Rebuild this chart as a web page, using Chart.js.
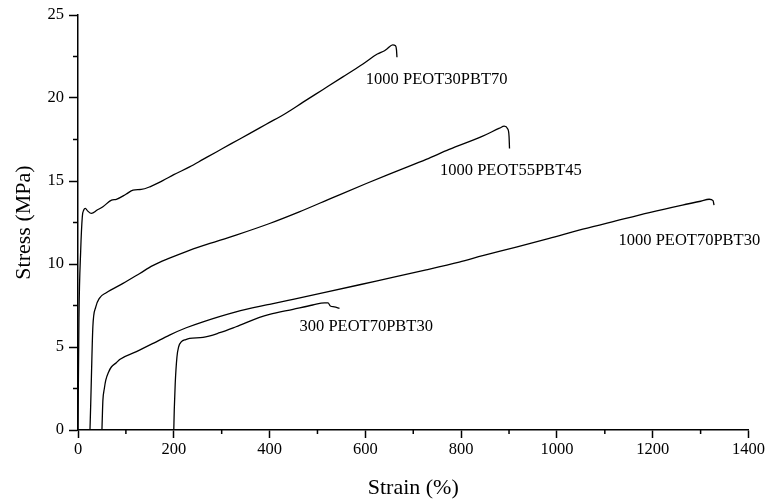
<!DOCTYPE html>
<html>
<head>
<meta charset="utf-8">
<title>Stress-strain curves</title>
<script src="https://cdn.jsdelivr.net/npm/chart.js@4/dist/chart.umd.min.js"></script>
<style>
  html, body { margin: 0; padding: 0; background: #fff; }
  #wrap { width: 767px; height: 502px; }
</style>
</head>
<body>
<div id="wrap"><canvas id="grafico"></canvas></div>
<script>
// sample names
const samples = ['1000 PEOT30PBT70', '1000 PEOT55PBT45', '1000 PEOT70PBT30', '300 PEOT70PBT30'];

// strain (%) / stress (MPa) per sample
const strain3070 = [0, 2, 5.6, 9, 12, 15.4, 20, 28, 40, 52, 70, 80, 100, 115, 132, 150, 177, 200, 233, 261, 289, 320, 358, 393, 435, 470, 511, 553, 595, 625, 640, 645, 657, 663, 665, 666];
const stress3070 = [0, 6.8, 10.8, 12.85, 13.25, 13.35, 13.2, 13.05, 13.25, 13.45, 13.85, 13.9, 14.2, 14.45, 14.49, 14.65, 15.02, 15.38, 15.85, 16.3, 16.75, 17.25, 17.85, 18.42, 19.1, 19.75, 20.5, 21.27, 22.05, 22.65, 22.85, 22.95, 23.2, 23.15, 22.9, 22.45];

const strain5545 = [25, 26.5, 28, 31, 37, 45, 59, 94, 129, 156, 191, 226, 261, 330, 400, 462, 532, 602, 671, 727, 775, 845, 880, 890, 897, 900, 901];
const stress5545 = [0, 1.5, 3.2, 6.2, 7.4, 7.95, 8.27, 8.83, 9.43, 9.9, 10.35, 10.75, 11.1, 11.74, 12.44, 13.14, 14.0, 14.85, 15.65, 16.3, 16.9, 17.7, 18.18, 18.3, 18.15, 17.7, 16.96];

const strain7030 = [50, 51, 52, 55, 58, 64, 70, 80, 87, 122, 157, 191, 226, 261, 330, 379, 400, 449, 518, 588, 657, 727, 796, 845, 915, 984, 1054, 1123, 1193, 1262, 1300, 1318, 1326, 1328];
const stress7030 = [0, 1, 1.8, 2.5, 3.0, 3.5, 3.81, 4.05, 4.25, 4.72, 5.22, 5.72, 6.16, 6.52, 7.12, 7.45, 7.57, 7.87, 8.3, 8.75, 9.2, 9.65, 10.12, 10.5, 11.02, 11.55, 12.1, 12.6, 13.1, 13.55, 13.78, 13.9, 13.82, 13.55];

const strain300 = [200, 201, 203, 206.6, 210, 216, 225, 233, 261, 296, 330, 379, 400, 449, 490, 515, 522, 527, 535, 546];
const stress300 = [0, 1.2, 2.8, 4.4, 5.0, 5.32, 5.45, 5.52, 5.58, 5.86, 6.22, 6.78, 6.96, 7.27, 7.53, 7.66, 7.66, 7.47, 7.42, 7.33];

const xTicks = [0, 200, 400, 600, 800, 1000, 1200, 1400];
const yTicks = [0, 5, 10, 15, 20, 25];

const serif = "'Liberation Serif', 'Times New Roman', serif";

function pares(xs, ys) {
    return xs.map((x, i) => ({ x: x, y: ys[i] }));
}

function serie(label, xs, ys) {
    return {
        label: label,
        data: pares(xs, ys),
        borderColor: '#000',
        borderWidth: 1.3,
        pointRadius: 0,
        fill: false,
        cubicInterpolationMode: 'monotone'
    };
}

// short ticks halfway between the labelled ones
const minorTicks = {
    id: 'minorTicks',
    afterDraw(chart) {
        const ctx = chart.ctx;
        const xs = chart.scales.x, ys = chart.scales.y;
        ctx.save();
        ctx.strokeStyle = '#000';
        ctx.lineWidth = 1.5;
        ctx.beginPath();
        for (let i = 0; i < xTicks.length - 1; i++) {
            const px = xs.getPixelForValue((xTicks[i] + xTicks[i + 1]) / 2);
            ctx.moveTo(px, xs.top);
            ctx.lineTo(px, xs.top + 4);
        }
        for (let i = 0; i < yTicks.length - 1; i++) {
            const py = ys.getPixelForValue((yTicks[i] + yTicks[i + 1]) / 2);
            ctx.moveTo(ys.right, py);
            ctx.lineTo(ys.right - 5, py);
        }
        ctx.stroke();
        ctx.restore();
    }
};

// sample names written next to each curve, anchored in data units
const curveLabels = {
    id: 'curveLabels',
    afterDatasetsDraw(chart, args, opts) {
        const ctx = chart.ctx;
        const xs = chart.scales.x, ys = chart.scales.y;
        ctx.save();
        ctx.fillStyle = '#000';
        ctx.font = '16.5px ' + serif;
        ctx.textAlign = 'left';
        ctx.textBaseline = 'middle';
        opts.anchors.forEach((a, i) => {
            ctx.fillText(samples[i], xs.getPixelForValue(a[0]), ys.getPixelForValue(a[1]));
        });
        ctx.restore();
    }
};

new Chart(document.getElementById('grafico'), {
    type: 'line',
    data: {
        datasets: [
            serie(samples[0], strain3070, stress3070),
            serie(samples[1], strain5545, stress5545),
            serie(samples[2], strain7030, stress7030),
            serie(samples[3], strain300, stress300)
        ]
    },
    options: {
        responsive: true,
        maintainAspectRatio: false,
        animation: false,
        layout: { padding: { top: 15, right: 18, left: 0, bottom: 0 } },
        plugins: {
            legend: { display: false },
            tooltip: { enabled: false },
            curveLabels: {
                anchors: [[601, 21.13], [756, 15.6], [1128.7, 11.38], [462.6, 6.23]]
            }
        },
        scales: {
            x: {
                type: 'linear',
                min: 0,
                max: 1400,
                afterBuildTicks: s => { s.ticks = xTicks.map(v => ({ value: v })); },
                afterFit: s => { s.height = 72; },
                border: { color: '#000', width: 1.5 },
                grid: { drawOnChartArea: false, tickLength: 8, tickColor: '#000', tickWidth: 1.5 },
                ticks: {
                    color: '#000',
                    font: { family: serif, size: 16.5 },
                    padding: 2,
                    maxRotation: 0,
                    callback: v => String(v)
                },
                title: {
                    display: true,
                    text: 'Strain (%)',
                    color: '#000',
                    font: { family: serif, size: 22, lineHeight: 1 },
                    padding: { top: 0, bottom: 3 }
                }
            },
            y: {
                type: 'linear',
                min: 0,
                max: 25,
                afterBuildTicks: s => { s.ticks = yTicks.map(v => ({ value: v })); },
                afterFit: s => { s.width = 78; },
                border: { color: '#000', width: 1.5 },
                grid: { drawOnChartArea: false, tickLength: 9, tickColor: '#000', tickWidth: 1.5 },
                ticks: {
                    color: '#000',
                    font: { family: serif, size: 16.5 },
                    padding: 5,
                    callback: v => String(v)
                },
                title: {
                    display: true,
                    text: 'Stress (MPa)',
                    color: '#000',
                    font: { family: serif, size: 22, lineHeight: 1 },
                    padding: { top: 13, bottom: 0 }
                }
            }
        }
    },
    plugins: [minorTicks, curveLabels]
});
</script>
</body>
</html>
